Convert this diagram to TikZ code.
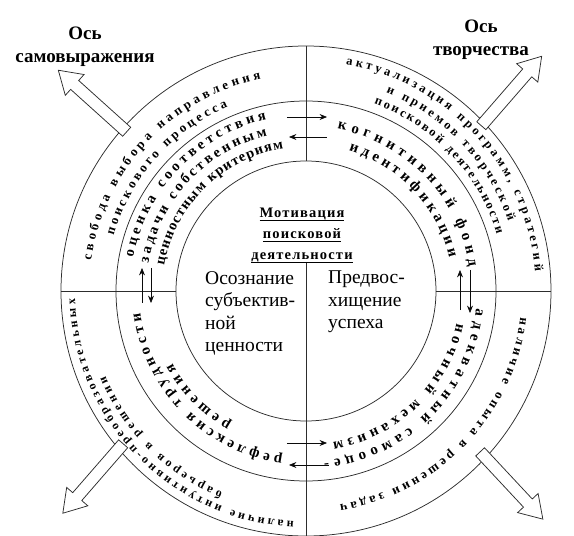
\documentclass[tikz,border=0pt]{standalone}
\usepackage{fontspec}
\setmainfont{Liberation Serif}
\usepackage{xcolor}
\usepackage{tikz}
\usetikzlibrary{arrows.meta,decorations.text}
\definecolor{mvline}{RGB}{45,45,45}
\definecolor{mvink}{RGB}{10,10,10}
\newcommand\arcline[5]{%
  \path[decorate, decoration={text along path, text align={fit to path},
    text={|\fontsize{#4}{#4}\selectfont\bfseries|#5}}]
    (#1:#3pt) arc[start angle=#1, end angle=#2, radius=#3pt];}
\newcommand\motline[1]{\setbox0\hbox{#1}\rlap{\rule[-2.6pt]{\wd0}{0.7pt}}\box0}
\newcommand\axisarrow[3]{%
  \draw[bigarr, shift={(#1,#2)}, rotate=#3]
    (-46,-6) -- (24,-6) -- (24,-14) -- (46,0) -- (24,14) -- (24,6) -- (-46,6) -- cycle;}
\tikzset{
  ring/.style={draw=mvline, line width=0.75pt},
  divider/.style={draw=mvline, line width=0.75pt},
  arr/.style={-{Stealth[length=2.6mm,width=2.1mm]}, draw=mvink, line width=0.65pt},
  bigarr/.style={draw=mvline, fill=white, line width=0.75pt, line join=miter},
  axislabel/.style={font=\fontsize{19}{23}\selectfont\bfseries, align=center, inner sep=0pt},
  mottitle/.style={font=\fontsize{14.5}{21}\selectfont\bfseries\addfontfeature{LetterSpace=8},
    align=center, inner sep=0pt},
  motbody/.style={font=\fontsize{19.5}{22.5}\selectfont, align=left, inner sep=0pt}
}
\begin{document}
\begin{tikzpicture}[x=1pt, y=1pt]
  \useasboundingbox (-306,-245) rectangle (268,291);
  \coordinate (c) at (0,0);
  % rings
  \draw[ring] (c) circle[radius=245pt];
  \draw[ring] (c) circle[radius=190pt];
  \draw[ring] (c) circle[radius=130pt];
  % dividers
  \draw[divider] (90:245pt) -- (90:130pt);
  \draw[divider] (0,29) -- (270:245pt);
  \draw[divider] (180:245pt) -- (180:130pt);
  \draw[divider] (0:130pt) -- (0:245pt);
  % axis arrows
  \axisarrow{-213.5}{190}{138}
  \axisarrow{205.5}{200}{49}
  \axisarrow{-213}{-187.5}{229}
  \axisarrow{205.5}{-194.5}{-47}
  \node[axislabel, anchor=north] (selfaxis) at (-221,264) {Ось\\самовыражения};
  \node[axislabel, anchor=north] (creaxis) at (175,271) {Ось\\творчества};
  % centre
  \node[mottitle, anchor=north] (motiv) at (-4,83)
    {\motline{Мотивация}\\\motline{поисковой}\\\motline{деятельности}};
  \node[motbody, anchor=north west] (value) at (-101,20) {Осознание\\субъектив-\\ной\\ценности};
  \node[motbody, anchor=north west] (success) at (22,20) {Предвос-\\хищение\\успеха};
  % exchange arrows
  \coordinate (ta1) at (-19,174); \coordinate (ta2) at (21,174);
  \coordinate (tb1) at (21,154);  \coordinate (tb2) at (-17,154);
  \coordinate (ba1) at (-19,-152); \coordinate (ba2) at (21,-152);
  \coordinate (bb1) at (23,-174);  \coordinate (bb2) at (-17,-174);
  \coordinate (la1) at (-164,-12); \coordinate (la2) at (-164,23);
  \coordinate (lb1) at (-155,23);  \coordinate (lb2) at (-155,-12);
  \coordinate (ra1) at (154,-19);  \coordinate (ra2) at (154,21);
  \coordinate (rb1) at (164,21);   \coordinate (rb2) at (164,-22);
  \draw[arr] (ta1) -- (ta2);
  \draw[arr] (tb1) -- (tb2);
  \draw[arr] (ba1) -- (ba2);
  \draw[arr] (bb1) -- (bb2);
  \draw[arr] (la1) -- (la2);
  \draw[arr] (lb1) -- (lb2);
  \draw[arr] (ra1) -- (ra2);
  \draw[arr] (rb1) -- (rb2);
  % outer ring
  \arcline{172}{102}{217}{13}{свобода выбора направления}
  \arcline{164}{113}{200}{13}{поискового процесса}
  \arcline{80}{5}{230}{12.5}{актуализация программ, стратегий}
  \arcline{68}{19}{214}{12.5}{и приемов творческой}
  \arcline{70}{16.5}{199}{12.5}{поисковой деятельности}
  \arcline{-7}{-81}{216}{13}{наличие опыта в решении задач}
  \arcline{267}{182}{231}{12}{наличие интуитивно-преобразовательных}
  \arcline{247.5}{203}{218}{12}{барьеров в решении}
  % middle ring
  \arcline{169}{103}{176}{14.5}{оценка соответствия}
  \arcline{170}{104}{160}{14.5}{задачи собственным}
  \arcline{170}{99}{144}{14.5}{ценностным критериям}
  \arcline{79}{8.5}{165}{15}{когнитивный фонд}
  \arcline{73}{13}{147}{15}{идентификации}
  \arcline{-6}{-84}{171}{15}{адекватный самооце-}
  \arcline{-12}{-80}{154}{15}{ночный механизм}
  \arcline{262}{187.5}{167}{15}{рефлексия трудности}
  \arcline{240.5}{208.5}{152}{15}{решения}
\end{tikzpicture}
\end{document}
